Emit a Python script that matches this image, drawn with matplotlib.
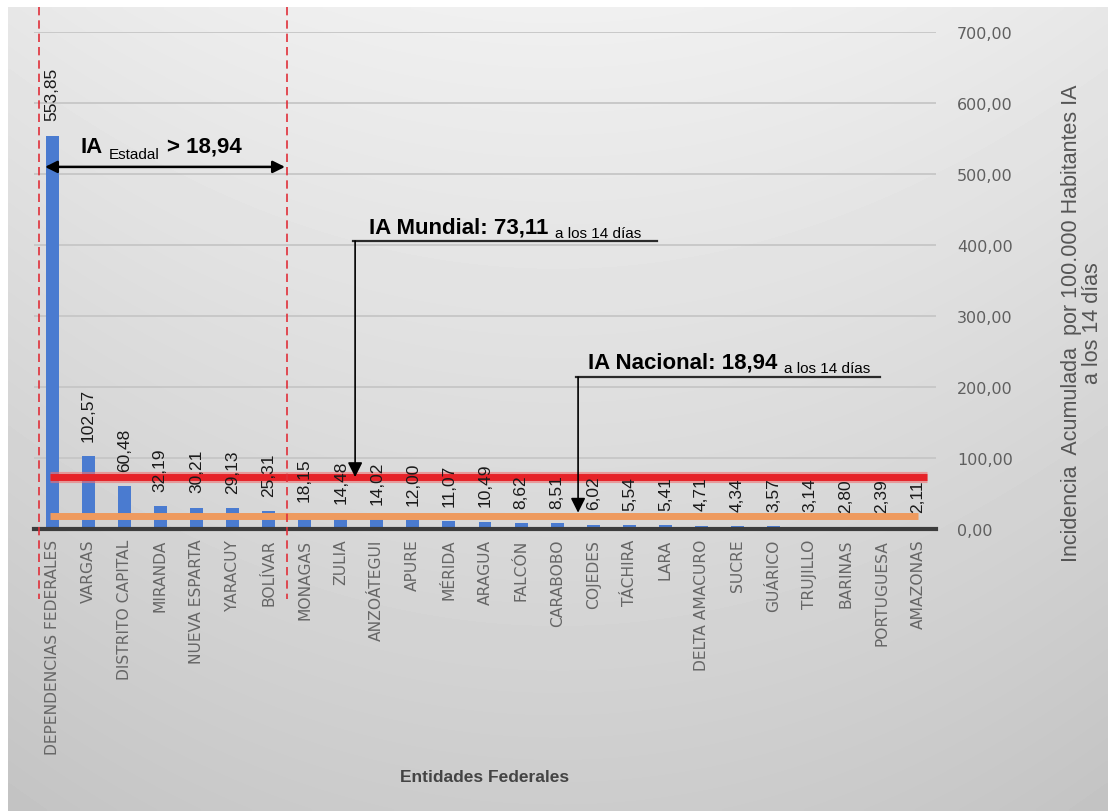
import numpy as np
import matplotlib
matplotlib.use("Agg")
import matplotlib.pyplot as plt
from matplotlib.ticker import FuncFormatter

plt.rcParams['font.family'] = ['Liberation Sans', 'DejaVu Sans']

# ---------------- data ----------------
entidades = ["DEPENDENCIAS FEDERALES", "VARGAS", "DISTRITO CAPITAL", "MIRANDA",
             "NUEVA ESPARTA", "YARACUY", "BOLÍVAR", "MONAGAS", "ZULIA",
             "ANZOÁTEGUI", "APURE", "MÉRIDA", "ARAGUA", "FALCÓN", "CARABOBO",
             "COJEDES", "TÁCHIRA", "LARA", "DELTA AMACURO", "SUCRE", "GUÁRICO",
             "TRUJILLO", "BARINAS", "PORTUGUESA", "AMAZONAS"]
incidencia = [553.85, 102.57, 60.48, 32.19, 30.21, 29.13, 25.31, 18.15, 14.48,
              14.02, 12.00, 11.07, 10.49, 8.62, 8.51, 6.02, 5.54, 5.41, 4.71,
              4.34, 3.57, 3.14, 2.80, 2.39, 2.11]
ia_mundial = 73.11
ia_nacional = 18.94
y_ticks = [0, 100, 200, 300, 400, 500, 600, 700]

def fmt(v):
    return f"{v:.2f}".replace(".", ",")

W, H = 1108, 812
fig = plt.figure(figsize=(W / 100, H / 100), dpi=100)
fig.patch.set_facecolor("white")

# background gradient panel
bg = fig.add_axes([8 / W, 0, 1 - 8 / W, 1 - 8 / H])
bg.axis("off")
yy = np.linspace(0, 1, 200)[:, None]
xx = np.linspace(-1, 1, 300)[None, :]
g = 0.94 - 0.14 * yy - 0.035 * xx ** 2
bg.imshow(g, cmap="gray", vmin=0, vmax=1, aspect="auto", extent=(0, 1, 0, 1),
          interpolation="bilinear")
bg.set_xlim(0, 1)
bg.set_ylim(0, 1)

# main axes
n = len(entidades)
ax = fig.add_axes([34 / W, (H - 530) / H, 902 / W, 497 / H])
ax.set_facecolor("none")
x = np.arange(n)
ax.set_xlim(-0.5, n - 0.5)
ax.set_ylim(y_ticks[0], y_ticks[-1])

ax.bar(x, incidencia, width=0.36, color="#4a7bd0", zorder=2)

# gridlines
ax.set_yticks(y_ticks)
ax.yaxis.grid(True, color="#c6c6c6", lw=1.3, zorder=0)
ax.set_axisbelow(True)
ax.yaxis.tick_right()
ax.yaxis.set_major_formatter(FuncFormatter(lambda v, p: fmt(v)))
ax.tick_params(axis="y", length=0, pad=15, labelsize=11.5, labelcolor="#5f5f5f",
               labelfontfamily="DejaVu Sans")
for s in ["top", "right", "left"]:
    ax.spines[s].set_visible(False)
ax.spines["bottom"].set_color("#3c3c3c")
ax.spines["bottom"].set_linewidth(3)
ax.spines["bottom"].set_zorder(3)

ax.set_xticks(x)
ax.set_xticklabels(entidades, rotation=90, fontsize=11.2, color="#666666",
                   family="DejaVu Sans")
ax.tick_params(axis="x", length=0, pad=7)

# reference lines
ax.hlines(ia_mundial, -0.05, n - 1 + 0.25, color="#f07070", lw=8, alpha=0.6, zorder=4)
ax.hlines(ia_mundial, -0.05, n - 1 + 0.25, color="#e62228", lw=5, zorder=4)
ax.hlines(ia_nacional, -0.05, n - 1, color="#ee9a5e", lw=5, zorder=4)

# value labels
for xi, v in zip(x, incidencia):
    ax.annotate(fmt(v), (xi, v), xytext=(0, 11), textcoords="offset points",
                rotation=90, ha="center", va="bottom", fontsize=12.5,
                color="#1a1a1a", zorder=6)

# dashed separators
tr = ax.get_xaxis_transform()
for xd in (-0.361, 6.512):
    ax.plot([xd, xd], [1.05, -0.141], transform=tr, color="#e0303a", lw=1.2,
            ls=(0, (5, 3)), clip_on=False, zorder=5)

# IA Estadal
ax.annotate("", xy=(-0.195, 510), xytext=(6.457, 510),
            arrowprops=dict(arrowstyle="<|-|>", color="black", lw=1.8,
                            mutation_scale=18, shrinkA=0, shrinkB=0), zorder=6)
t1 = ax.text(0.775, 531, "IA", fontsize=16, fontweight="bold", color="black",
             ha="left", va="baseline", zorder=6)
t2 = ax.annotate("Estadal", xy=(1, 0), xycoords=t1, xytext=(5, -1),
                 textcoords="offset points", fontsize=11, color="black",
                 ha="left", va="baseline", zorder=6)
ax.annotate("> 18,94", xy=(1, 0), xycoords=(t2, t1), xytext=(5, 0),
            textcoords="offset points", fontsize=16, fontweight="bold",
            color="black", ha="left", va="bottom", zorder=6)

# IA Mundial
ax.plot([8.34, 16.77], [405.6, 405.6], color="#2a2a2a", lw=1.6, zorder=6)
ax.annotate("", xy=(8.40, ia_mundial), xytext=(8.40, 405.6),
            arrowprops=dict(arrowstyle="-|>", color="black", lw=1.2,
                            mutation_scale=22, shrinkA=0, shrinkB=0), zorder=7)
tm = ax.text(8.785, 418, "IA Mundial: " + fmt(ia_mundial), fontsize=16,
             fontweight="bold", color="black", ha="left", va="baseline", zorder=6)
ax.annotate("a los 14 días", xy=(1, 0), xycoords=tm, xytext=(5, 0),
            textcoords="offset points", fontsize=11, color="black",
            ha="left", va="baseline", zorder=6)

# IA Nacional
ax.plot([14.52, 22.95], [214, 214], color="#2a2a2a", lw=1.6, zorder=6)
ax.annotate("", xy=(14.58, ia_nacional + 4), xytext=(14.58, 214),
            arrowprops=dict(arrowstyle="-|>", color="black", lw=1.2,
                            mutation_scale=22, shrinkA=0, shrinkB=0), zorder=7)
tn = ax.text(14.85, 228, "IA Nacional: " + fmt(ia_nacional), fontsize=16,
             fontweight="bold", color="black", ha="left", va="baseline", zorder=6)
ax.annotate("a los 14 días", xy=(1, 0), xycoords=tn, xytext=(5, 0),
            textcoords="offset points", fontsize=11, color="black",
            ha="left", va="baseline", zorder=6)

# axis titles
fig.text(1082 / W, 1 - 323 / H,
         "Incidencia  Acumulada  por 100.000 Habitantes IA\na los 14 días",
         rotation=90, ha="center", va="center", multialignment="center",
         fontsize=15.5, color="#555555", linespacing=1.05)
fig.text(485 / W, 1 - 778 / H, "Entidades Federales", ha="center", va="center",
         fontsize=12.5, fontweight="bold", color="#444444")

fig.savefig("out.png", dpi=100, facecolor=fig.get_facecolor())
